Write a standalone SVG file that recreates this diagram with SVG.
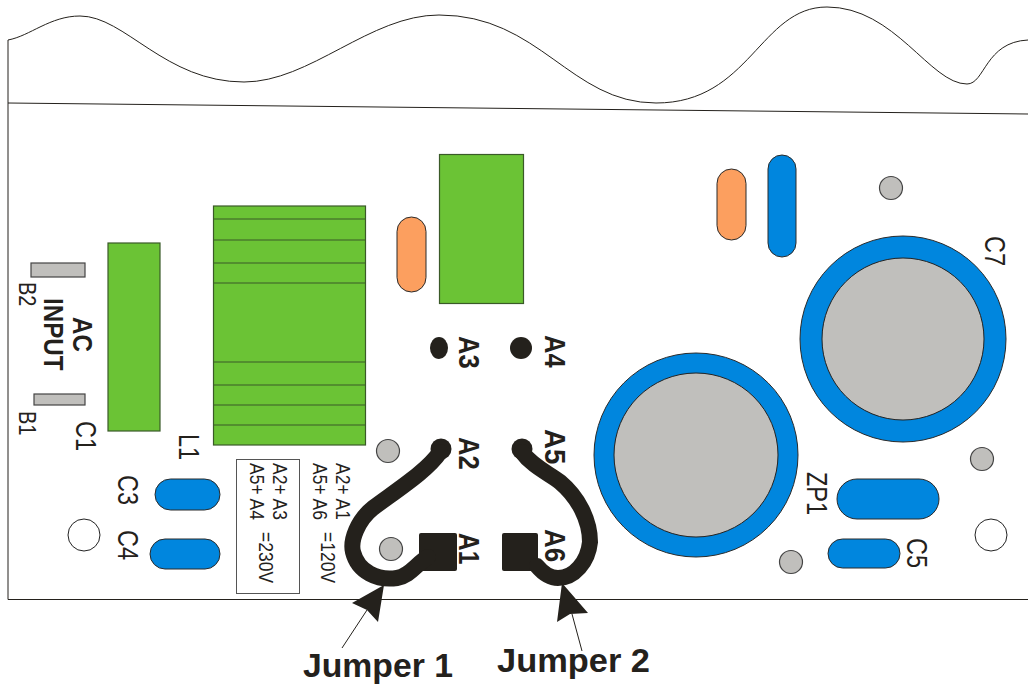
<svg xmlns="http://www.w3.org/2000/svg" width="1028" height="687" viewBox="0 0 1028 687">
<style>
text{font-family:"Liberation Sans",Arial,sans-serif;fill:#24211c}
.b{font-weight:bold}
.l{font-size:23.500px}
.m{font-size:20px}
.p{font-size:25.500px;font-weight:bold}
.s{font-size:17.500px}
.g{fill:#6bc335;stroke:#3a5a28;stroke-width:1.2}
.h{fill:none;stroke:#3a5a28;stroke-width:1.2}
.o{fill:#fc9f5f;stroke:#2a2a2a;stroke-width:1}
.u{fill:#0086de;stroke:#2a2a2a;stroke-width:1}
.y{fill:#c0bfbc;stroke:#444;stroke-width:1.2}
.w{fill:#fff;stroke:#222;stroke-width:1}
.k{fill:#24211c}
.j{fill:none;stroke:#24211c;stroke-width:16;stroke-linecap:round;stroke-linejoin:round}
.t{fill:none;stroke:#24211c;stroke-width:1}
</style>
<rect width="1028" height="687" fill="#fff"/>
<g id="board">
<path class="t" d="M8 40 C30 36 50 16 80 16 C125 16 165 82 244 82 C310 82 370 15 439 15 C540 15 570 103 656 103 C750 103 760 7 827 7 C895 7 930 84 967 84 C985 84 985 42 1028 40"/>
<path class="t" d="M8 40 V599.500 H1028"/>
<path class="t" d="M8 103 L1028 114"/>
</g>
<g id="terminal-b2"><rect class="y" x="31" y="263" width="54" height="14"/><text class="m" transform="translate(19 282) rotate(90) scale(1 1.150)">B2</text></g>
<g id="terminal-b1"><rect class="y" x="34" y="394" width="51" height="11"/><text class="m" transform="translate(19 411) rotate(90) scale(1 1.150)">B1</text></g>
<g id="ac-input"><text class="p" transform="translate(73 317) rotate(90) scale(.95 1.050)">AC</text><text class="p" transform="translate(44 298) rotate(90) scale(.95 1.050)">INPUT</text></g>
<g id="c1"><rect class="g" x="108" y="243" width="52" height="188"/><text class="l" transform="translate(76 421) rotate(90) scale(1 1.270)">C1</text></g>
<g id="l1"><rect class="g" x="213.500" y="206" width="152" height="239"/><path class="h" d="M213 219H365M213 240H365M213 263H365M213 283H365M213 362H365M213 385H365M213 405H365M213 425H365"/><text class="l" transform="translate(179 434) rotate(90) scale(1 1.270)">L1</text></g>
<g id="relay"><rect class="g" x="439.500" y="154.500" width="84" height="149"/></g>
<g id="orange-1"><rect class="o" x="397" y="217" width="29" height="75" rx="14.500"/></g>
<g id="orange-2"><rect class="o" x="717" y="169" width="29" height="71" rx="14.500"/></g>
<g id="blue-1"><rect class="u" x="768" y="155" width="28" height="102" rx="14"/></g>
<g id="c7"><circle class="u" cx="903" cy="339" r="103"/><circle class="y" cx="903" cy="339" r="81" style="stroke:#222;stroke-width:1"/><text class="l" transform="translate(985 236) rotate(90) scale(1 1.270)">C7</text></g>
<g id="cap-2"><circle class="u" cx="696" cy="455" r="102"/><circle class="y" cx="696" cy="455" r="82" style="stroke:#222;stroke-width:1"/></g>
<g id="holes"><circle class="y" cx="891" cy="188" r="11.500"/><circle class="y" cx="388" cy="451" r="11.500"/><circle class="y" cx="391" cy="549" r="11.500"/><circle class="y" cx="982" cy="459" r="11.500"/><circle class="y" cx="791" cy="562" r="11.500"/><circle class="w" cx="84" cy="535" r="16"/><circle class="w" cx="991" cy="535" r="16"/></g>
<g id="c3"><rect class="u" x="155" y="479" width="65" height="31" rx="15.500"/><text class="l" transform="translate(118 475) rotate(90) scale(1 1.270)">C3</text></g>
<g id="c4"><rect class="u" x="150" y="539" width="70" height="30" rx="15"/><text class="l" transform="translate(118 530) rotate(90) scale(1 1.270)">C4</text></g>
<g id="zp1"><rect class="u" x="837" y="479" width="102" height="40" rx="20"/><text class="l" transform="translate(807 472) rotate(90) scale(1 1.270)">ZP1</text></g>
<g id="c5"><rect class="u" x="828" y="539" width="72" height="29" rx="14.500"/><text class="l" transform="translate(907 538) rotate(90) scale(1 1.270)">C5</text></g>
<g id="note"><rect class="w" x="236.500" y="459.500" width="63" height="134" style="stroke:#555"/>
<text class="s" transform="translate(273 463) rotate(90) scale(1 1.200)">A2+ A3</text><text class="s" transform="translate(250 463) rotate(90) scale(1 1.200)">A5+ A4</text><text class="s" transform="translate(259 532) rotate(90) scale(1 1.200)">=230V</text>
<text class="s" transform="translate(336 463) rotate(90) scale(1 1.200)">A2+ A1</text><text class="s" transform="translate(313 463) rotate(90) scale(1 1.200)">A5+ A6</text><text class="s" transform="translate(321 532) rotate(90) scale(1 1.200)">=120V</text></g>
<g id="a3"><ellipse class="k" cx="439" cy="348" rx="9" ry="11"/><text class="p" transform="translate(459 336) rotate(90) scale(1 1.180)">A3</text></g>
<g id="a4"><circle class="k" cx="521" cy="348" r="11"/><text class="p" transform="translate(545 335) rotate(90) scale(1 1.180)">A4</text></g>
<g id="a2"><circle class="k" cx="441" cy="449" r="10.500"/><text class="p" transform="translate(459 437) rotate(90) scale(1 1.180)">A2</text></g>
<g id="a5"><circle class="k" cx="522" cy="449" r="10.500"/><text class="p" transform="translate(545 429) rotate(90) scale(1.080 1.180)">A5</text></g>
<g id="a1"><rect class="k" x="419" y="533" width="38" height="38" rx="2"/><text class="p" transform="translate(459 533) rotate(90) scale(.96 1.180)">A1</text></g>
<g id="a6"><rect class="k" x="502" y="533" width="36" height="38" rx="2"/><text class="p" transform="translate(545 529) rotate(90) scale(1.020 1.180)">A6</text></g>
<g id="connectors">
<path class="j" d="M440 452 C428 470 400 488 373 508 C358 520 350 540 353 552 C358 572 378 581 397 578 C410 576 416 564 428 557"/>
<path class="j" d="M522 452 C532 466 548 473 560 482 C578 497 590 520 590 542 C588 562 574 578 558 578 C548 578 542 572 537 566"/>
<polygon class="k" points="384,585 378,622 367,610 352,603"/>
<polygon class="k" points="562,583 588,613 570,614 557,622"/>
<path class="t" d="M367 610 L342 648M572 614 L582 651"/>
</g>
<g id="label-jumper-1"><text class="b" style="font-size:33px" x="303" y="677" textLength="150" lengthAdjust="spacingAndGlyphs">Jumper 1</text></g>
<g id="label-jumper-2"><text class="b" style="font-size:33px" x="497" y="672" textLength="153" lengthAdjust="spacingAndGlyphs">Jumper 2</text></g>
</svg>
